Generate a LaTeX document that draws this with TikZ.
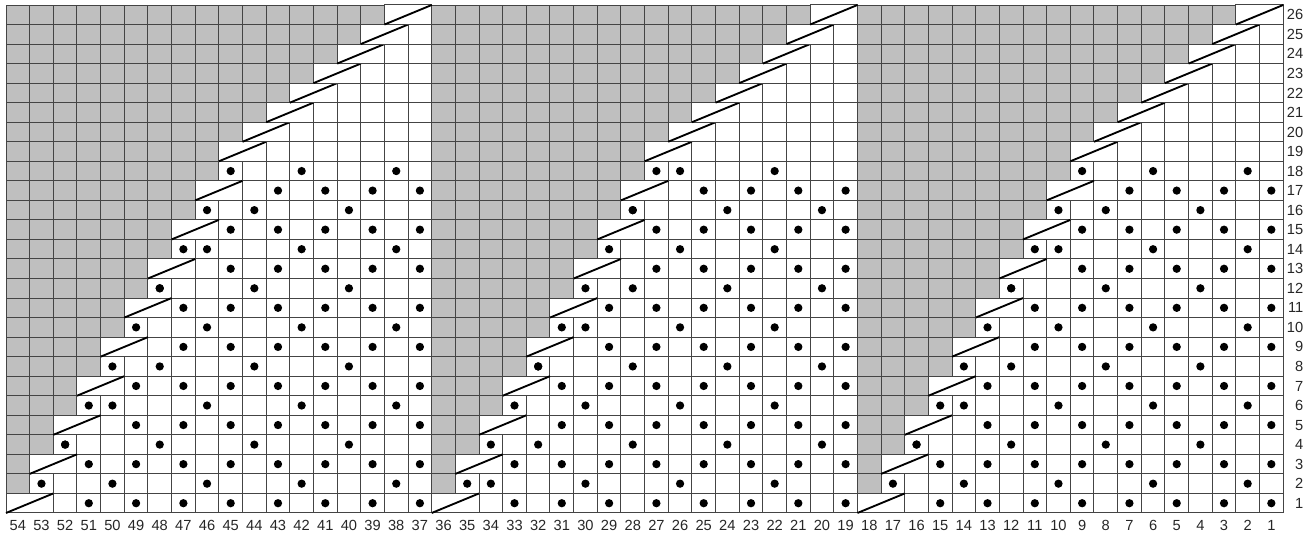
\documentclass[tikz,border=0pt]{standalone}
\usepackage{fontspec}
\setmainfont{Liberation Sans}
\definecolor{mGrey}{HTML}{BFBFBF}
\definecolor{mLine}{HTML}{444444}

\begin{document}
\begin{tikzpicture}[x=17.74pt, y=14.655pt,
      ln/.style={draw=mLine, line width=0.75pt},
      dec/.style={draw=black, line width=1.4pt},
      lbl/.style={font=\fontsize{11}{13}\selectfont, text=black!85, inner sep=0pt}]
    \useasboundingbox (-0.254,-1.126) rectangle (55.22,26.256);
    % no stitch
    \foreach \s in {0,1,2}{
      \foreach \r in {1,...,26}{
        \pgfmathtruncatemacro{\o}{18*\s}
        \pgfmathtruncatemacro{\D}{\r<19 ? (isodd(\r) ? 19-(\r+1)/2 : 18-\r/2) : 28-\r}
        \fill[mGrey] ({36-\o},{\r-1}) rectangle ({54-\o-\D},\r);
      }
    }
    % grid
    \draw[ln, step=1] (0,0) grid (54,26);
    % decreases
    \foreach \s in {0,1,2}{
      \foreach \r in {1,3,5,7,9,11,13,15,17,19,20,21,22,23,24,25,26}{
        \pgfmathtruncatemacro{\o}{18*\s}
        \pgfmathtruncatemacro{\D}{\r<19 ? 19-(\r+1)/2 : 28-\r}
        \filldraw[ln, fill=white] ({54-\o-\D},{\r-1}) rectangle ({56-\o-\D},\r);
        \draw[dec] ({54-\o-\D},{\r-1}) -- ({56-\o-\D},\r);
      }
    }
    % dots, odd rows
    \foreach \s in {0,1,2}{
      \foreach \r in {1,3,...,17}{
        \pgfmathtruncatemacro{\o}{18*\s}
        \pgfmathtruncatemacro{\m}{19-(\r+1)/2-2}
        \foreach \c in {1,3,...,\m}
          \fill ({54.5-\o-\c},{\r-0.5}) circle[radius=3.1pt];
      }
    }
    % dots, even rows
    \foreach \s in {0,1,2}{
      \foreach \r in {2,4,...,18}{
        \pgfmathtruncatemacro{\o}{18*\s}
        \pgfmathtruncatemacro{\W}{18-\r/2}
        \pgfmathtruncatemacro{\cz}{mod(\r-\o+40,4)==0 ? 4 : 2}
        \pgfmathtruncatemacro{\cn}{\cz+4}
        \fill ({54.5-\o-\W},{\r-0.5}) circle[radius=3.1pt];
        \foreach \c in {\cz,\cn,...,\W}
          \fill ({54.5-\o-\c},{\r-0.5}) circle[radius=3.1pt];
      }
    }
    % numbers
    \foreach \i in {1,...,54}
      \node[lbl] (col\i) at ({54.5-\i},-0.63) {\i};
    \foreach \r in {1,...,26}
      \node[lbl, anchor=east] (row\r) at (54.86,{\r-0.5}) {\r};
  \end{tikzpicture}
\end{document}
